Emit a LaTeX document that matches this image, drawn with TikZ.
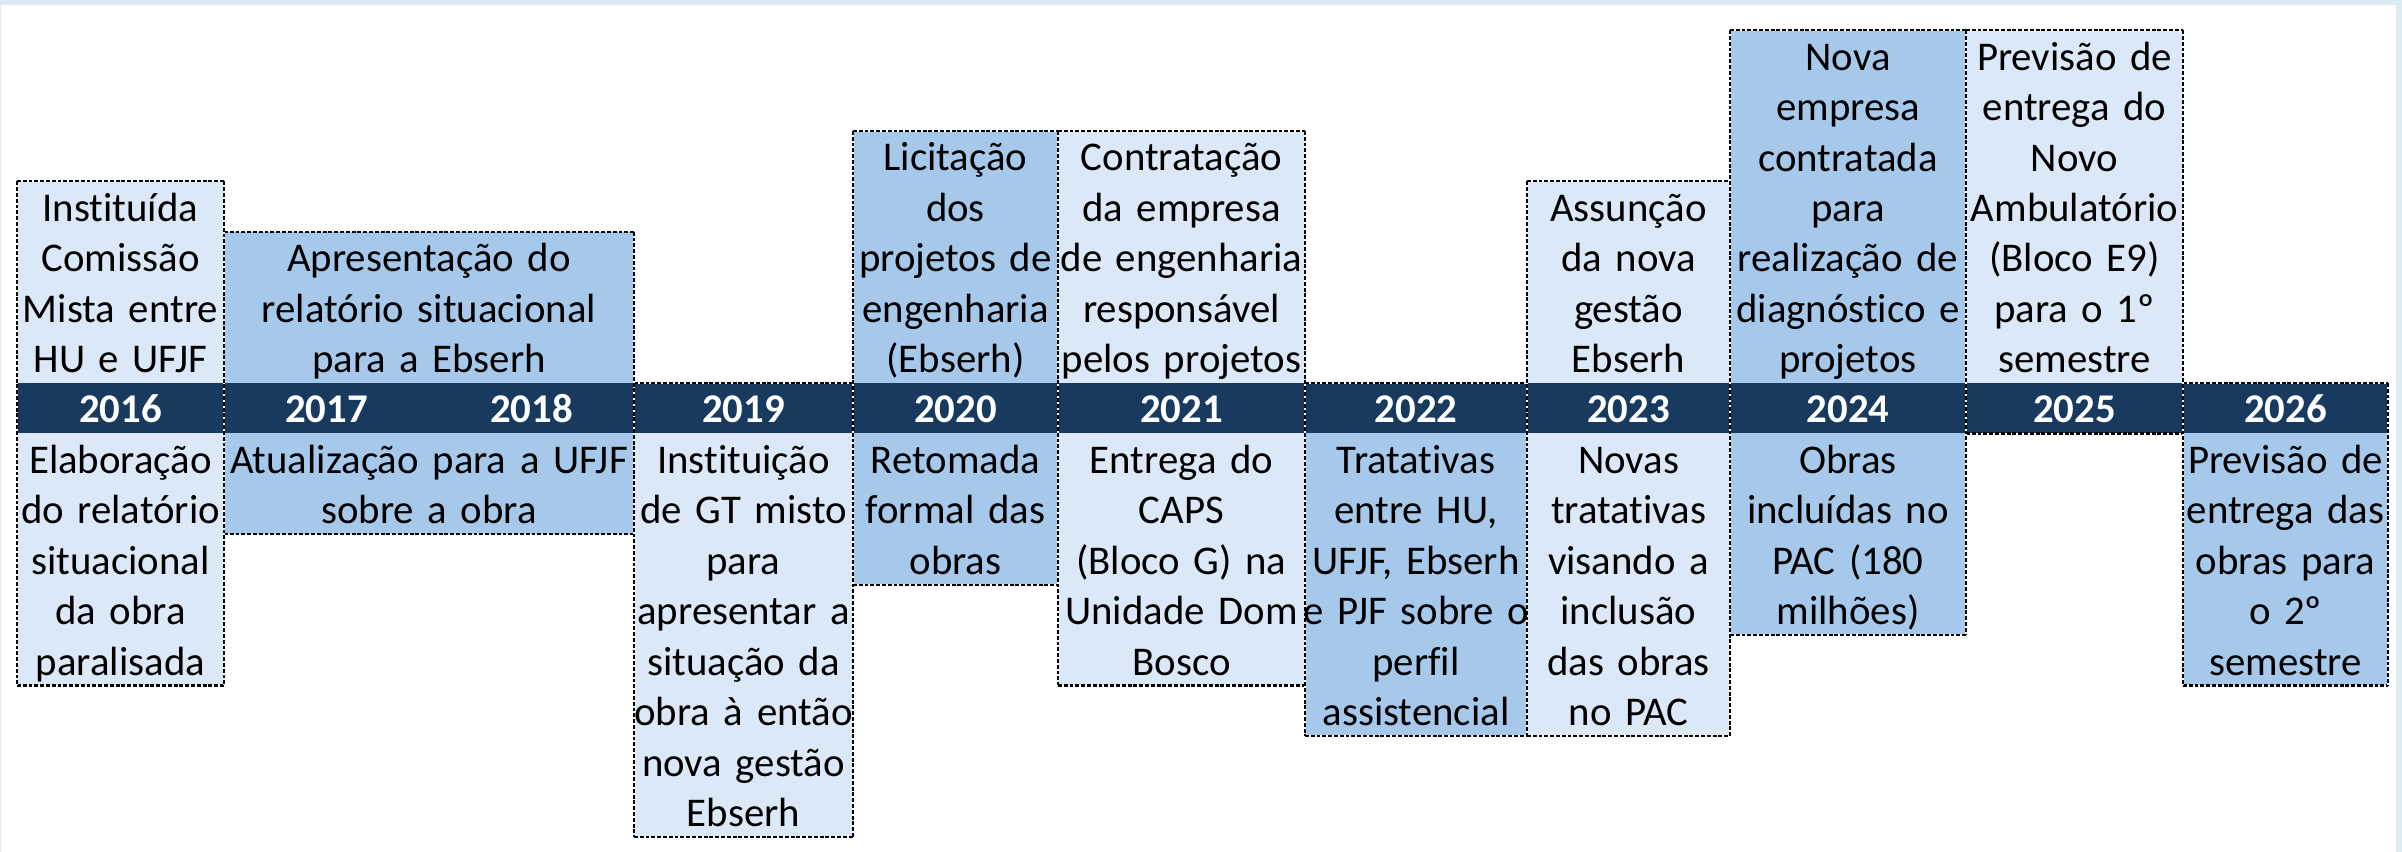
\documentclass[tikz,border=0pt]{standalone}
\usepackage{fontspec}
\setmainfont{Carlito}[Ligatures=NoCommon]
\usetikzlibrary{positioning}
\definecolor{barblue}{HTML}{173A5E}
\definecolor{lightblue}{HTML}{DAE8F7}
\definecolor{midblue}{HTML}{A6C8EA}
\definecolor{framecol}{HTML}{DCEAF2}

\begin{document}
\begin{tikzpicture}[x=0.01cm,y=-0.01cm,
    cellline/.style={line width=0.6pt,dash pattern=on 1.1pt off 0.55pt,
                     preaction={draw=white,solid,line width=0.4pt}},
    evtext/.style={anchor=base,text width=4.5cm,align=center,inner sep=0pt,
                   font=\fontsize{11.6pt}{14.34pt}\selectfont},
    yeartext/.style={anchor=base,inner sep=0pt,text=white,
                     font=\fontsize{11.6pt}{14.34pt}\selectfont\bfseries}]
      \useasboundingbox (0,0) rectangle (2402,852);
      \fill[framecol] (0,0) rectangle (2402,852);
      \fill[white] (1.5,5) rectangle (2396,852);
      \fill[barblue] (17,383) rectangle (2388,433.5);
      \foreach \c/\xa/\xb/\nu/\nl/\cu/\cl in {16/17/224/4/5/lightblue/lightblue,
          17/224/634/3/2/midblue/midblue, 19/634/853/0/8/white/lightblue,
          20/853/1058/5/3/midblue/midblue, 21/1058/1305/5/5/lightblue/lightblue,
          22/1305/1527/0/6/white/midblue, 23/1527/1730/4/6/lightblue/lightblue,
          24/1730/1966/7/4/midblue/midblue, 25/1966/2183/7/0/lightblue/white,
          26/2183/2388/0/5/white/midblue} {
        \fill[\cu] (\xa,{383-50.4*\nu}) rectangle (\xb,383);
        \fill[\cl] (\xa,433.5) rectangle (\xb,{433.5+50.4*\nl});
        \draw[cellline] (\xa,{383-50.4*\nu}) -- (\xb,{383-50.4*\nu})
                        (\xa,{433.5+50.4*\nl}) -- (\xb,{433.5+50.4*\nl});
        \coordinate (c\c-up) at ({(\xa+\xb)/2},{423-50.4*\nu});
        \coordinate (c\c-lo) at ({(\xa+\xb)/2},473.5);
      }
      \foreach \x/\nu/\nl in {17/4/5,224/4/5,634/3/8,853/5/8,1058/5/5,1305/5/6,
          1527/4/6,1730/7/6,1966/7/4,2183/7/5,2388/0/5}
        \draw[cellline] (\x,{383-50.4*\nu}) -- (\x,{433.5+50.4*\nl});
      \foreach \yr/\xc in {2016/120.5,2017/326.5,2018/531.5,2019/743.5,2020/955.5,
          2021/1181.5,2022/1416,2023/1628.5,2024/1848,2025/2074.5,2026/2285.5}
        \node[yeartext] (y\yr) at (\xc,423) {\yr};

      \node[evtext] (t16u) at (c16-up) {Instituída\\Comissão\\Mista entre\\HU e UFJF};
      \node[evtext] (t16l) at (c16-lo) {Elaboração\\do relatório\\situacional\\da obra\\paralisada};
      \node[evtext] (t17u) at (c17-up) {Apresentação do\\relatório situacional\\para a Ebserh};
      \node[evtext] (t17l) at (c17-lo) {Atualização para a UFJF\\sobre a obra};
      \node[evtext] (t19l) at (c19-lo) {Instituição\\de GT misto\\para\\apresentar a\\situação da\\obra à então\\nova gestão\\Ebserh};
      \node[evtext] (t20u) at (c20-up) {Licitação\\dos\\projetos de\\engenharia\\(Ebserh)};
      \node[evtext] (t20l) at (c20-lo) {Retomada\\formal das\\obras};
      \node[evtext] (t21u) at (c21-up) {Contratação\\da empresa\\de engenharia\\responsável\\pelos projetos};
      \node[evtext] (t21l) at (c21-lo) {Entrega do\\CAPS\\(Bloco G) na\\Unidade Dom\\Bosco};
      \node[evtext] (t22l) at (c22-lo) {Tratativas\\entre HU,\\UFJF, Ebserh\\e PJF sobre o\\perfil\\assistencial};
      \node[evtext] (t23u) at (c23-up) {Assunção\\da nova\\gestão\\Ebserh};
      \node[evtext] (t23l) at (c23-lo) {Novas\\tratativas\\visando a\\inclusão\\das obras\\no PAC};
      \node[evtext] (t24u) at (c24-up) {Nova\\empresa\\contratada\\para\\realização de\\diagnóstico e\\projetos};
      \node[evtext] (t24l) at (c24-lo) {Obras\\incluídas no\\PAC (180\\milhões)};
      \node[evtext] (t25u) at (c25-up) {Previsão de\\entrega do\\Novo\\Ambulatório\\(Bloco E9)\\para o 1º\\semestre};
      \node[evtext] (t26l) at (c26-lo) {Previsão de\\entrega das\\obras para\\o 2º\\semestre};
    \end{tikzpicture}
\end{document}
